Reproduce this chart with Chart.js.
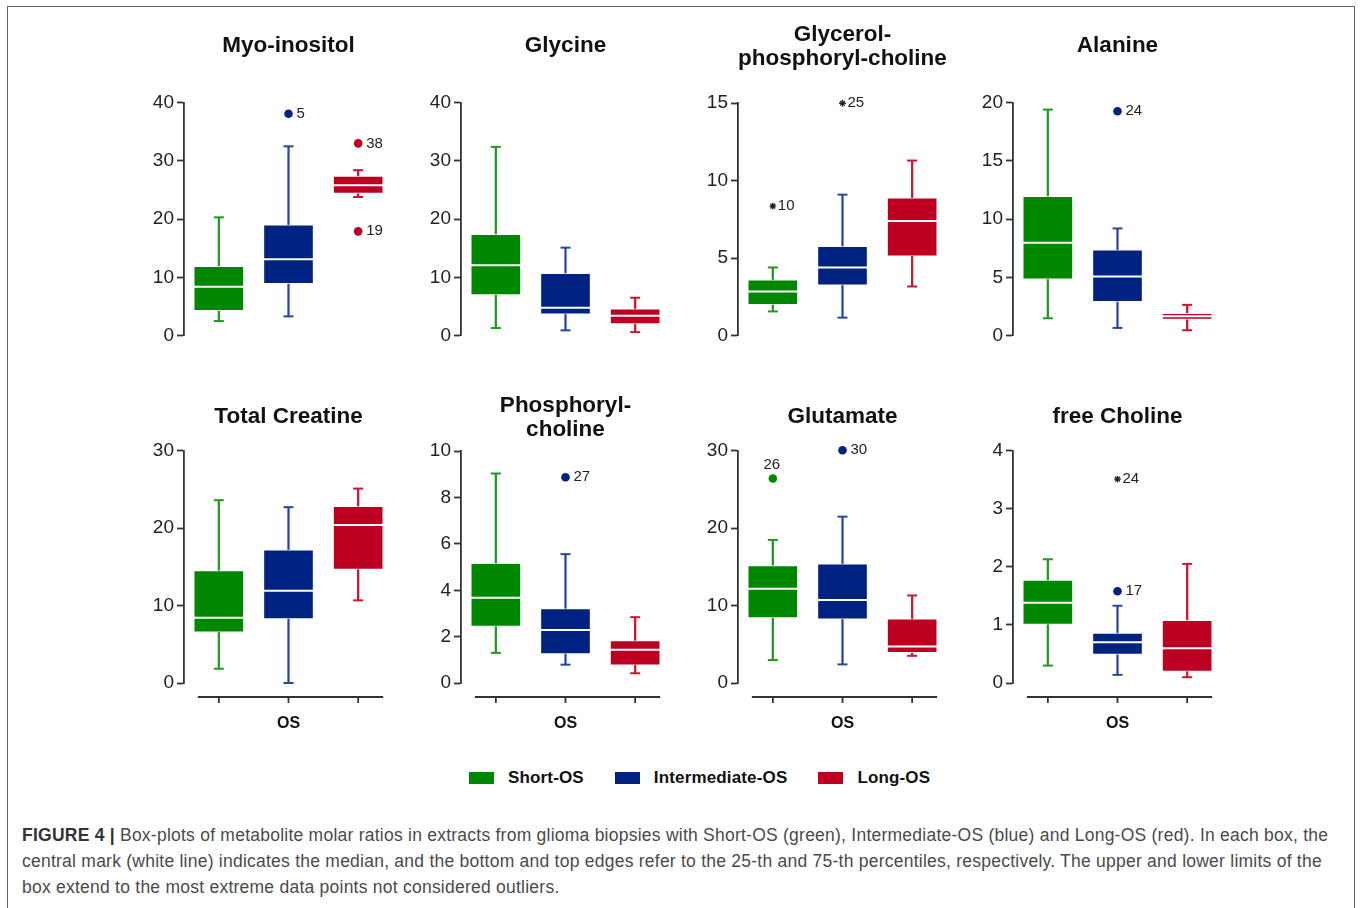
<!DOCTYPE html>
<html>
<head>
<meta charset="utf-8">
<script src="https://cdn.jsdelivr.net/npm/chart.js@4.4.1/dist/chart.umd.min.js"></script>
<style>
html, body { margin: 0; padding: 0; background: #fff; }
body { width: 1360px; height: 908px; position: relative; overflow: hidden; font-family: "Liberation Sans", Arial, sans-serif; }
#frame { position: absolute; left: 7px; top: 6px; width: 1348px; height: 980px; border: 1px solid #666; box-sizing: border-box; }
canvas.panel { position: absolute; }
#legend { position: absolute; left: 469px; top: 767px; height: 22px; display: flex; align-items: center; font-weight: bold; font-size: 17px; letter-spacing: 0.15px; color: #111; white-space: nowrap; }
#legend .sw { display: inline-block; width: 25px; height: 12px; margin-right: 14px; }
#legend .lab { margin-right: 31px; }
#caption { position: absolute; left: 22px; top: 822px; font-size: 17.5px; letter-spacing: 0.24px; line-height: 26px; color: #4a4a4a; white-space: nowrap; }
#caption b { color: #333; }
</style>
</head>
<body>
<div id="frame"></div>
<canvas class="panel" id="p0" width="270" height="340"></canvas>
<canvas class="panel" id="p1" width="270" height="340"></canvas>
<canvas class="panel" id="p2" width="270" height="340"></canvas>
<canvas class="panel" id="p3" width="270" height="340"></canvas>
<canvas class="panel" id="p4" width="270" height="361"></canvas>
<canvas class="panel" id="p5" width="270" height="361"></canvas>
<canvas class="panel" id="p6" width="270" height="361"></canvas>
<canvas class="panel" id="p7" width="270" height="361"></canvas>
<div id="legend"></div>
<div id="caption"><b>FIGURE 4 |</b> Box-plots of metabolite molar ratios in extracts from glioma biopsies with Short-OS (green), Intermediate-OS (blue) and Long-OS (red). In each box, the<br>central mark (white line) indicates the median, and the bottom and top edges refer to the 25-th and 75-th percentiles, respectively. The upper and lower limits of the<br>box extend to the most extreme data points not considered outliers.</div>
<script>
// ---------------- DATA ----------------
const groups = ['Short-OS', 'Intermediate-OS', 'Long-OS'];
const xAxisTitle = 'OS';
const panelTitles = ['Myo-inositol', 'Glycine', ['Glycerol-', 'phosphoryl-choline'], 'Alanine',
                     'Total Creatine', ['Phosphoryl-', 'choline'], 'Glutamate', 'free Choline'];
const yMax  = [40, 40, 15, 20, 30, 10, 30, 4];
const yStep = [10, 10, 5, 5, 10, 2, 10, 1];

const whiskerLow = [
  [2.5, 3.3, 23.8],
  [1.3, 0.9, 0.6],
  [1.56, 1.16, 3.17],
  [1.49, 0.66, 0.46],
  [1.84, 0.0, 10.67],
  [1.30, 0.79, 0.42],
  [2.96, 2.40, 3.51],
  [0.30, 0.14, 0.10]
];
const q1 = [
  [4.3, 8.9, 24.4],
  [7.0, 3.7, 2.0],
  [2.0, 3.26, 5.12],
  [4.84, 2.92, 1.38],
  [6.56, 8.27, 14.66],
  [2.44, 1.26, 0.77],
  [8.4, 8.23, 3.9],
  [1.01, 0.49, 0.20]
];
const median = [
  [8.4, 13.1, 25.8],
  [12.1, 4.8, 3.4],
  [2.85, 4.4, 7.4],
  [7.97, 5.07, 1.66],
  [8.44, 11.9, 20.4],
  [3.68, 2.29, 1.43],
  [12.17, 10.7, 4.71],
  [1.38, 0.70, 0.60]
];
const q3 = [
  [11.9, 19.0, 27.4],
  [17.4, 10.7, 4.6],
  [3.6, 5.76, 8.9],
  [11.95, 7.36, 1.92],
  [14.5, 17.2, 22.8],
  [5.16, 3.21, 1.83],
  [15.17, 15.39, 8.27],
  [1.77, 0.86, 1.08]
];
const whiskerHigh = [
  [20.3, 32.5, 28.4],
  [32.4, 15.1, 6.5],
  [4.4, 9.1, 11.3],
  [19.4, 9.2, 2.64],
  [23.6, 22.7, 25.1],
  [9.04, 5.56, 2.84],
  [18.47, 21.47, 11.3],
  [2.13, 1.33, 2.05]
];
// outliers: group index, value, case number, extreme (star) flag
const outlierGroup   = [[1, 2, 2], [], [0, 1], [1], [], [1], [0, 1], [1, 1]];
const outlierValue   = [[38.1, 33.0, 17.9], [], [8.36, 15.0], [19.26], [], [8.88], [26.4, 30.05], [3.51, 1.58]];
const outlierCase    = [['5', '38', '19'], [], ['10', '25'], ['24'], [], ['27'], ['26', '30'], ['24', '17']];
const outlierExtreme = [[false, false, false], [], [true, true], [false], [], [false], [false, false], [true, false]];

// ---------------- STYLE / LAYOUT ----------------
const boxColors = ['#008700', '#002381', '#bd0022'];
const whiskerColors = ['#1f9a1f', '#2a47a0', '#d0142f'];
const axisX = [184, 461, 738, 1013];
const rowTop = [10, 380];
const FONT = '"Liberation Sans", Arial, sans-serif';
Chart.defaults.font.family = FONT;
Chart.defaults.color = '#222';

const boxExtras = {
  id: 'boxExtras',
  afterDatasetsDraw(chart, args, opts) {
    const p = opts.panel;
    const { ctx } = chart;
    const x = chart.scales.x, y = chart.scales.y;
    const boxMeta = chart.getDatasetMeta(2);
    ctx.save();
    groups.forEach((g, i) => {
      const cx = x.getPixelForValue(i);
      ctx.strokeStyle = whiskerColors[i];
      ctx.lineWidth = 2;
      [whiskerLow[p][i], whiskerHigh[p][i]].forEach(v => {
        const yy = y.getPixelForValue(v);
        ctx.beginPath(); ctx.moveTo(cx - 5, yy); ctx.lineTo(cx + 5, yy); ctx.stroke();
      });
      const el = boxMeta.data[i];
      const my = y.getPixelForValue(median[p][i]);
      ctx.strokeStyle = '#ffffff';
      ctx.lineWidth = 2;
      ctx.beginPath(); ctx.moveTo(el.x - el.width / 2, my); ctx.lineTo(el.x + el.width / 2, my); ctx.stroke();
    });
    // outlier case labels
    const dotMeta = chart.getDatasetMeta(3);
    const starMeta = chart.getDatasetMeta(4);
    ctx.fillStyle = '#222';
    ctx.font = '15px ' + FONT;
    ctx.textBaseline = 'middle';
    let di = 0, si = 0;
    outlierCase[p].forEach((lab, k) => {
      if (outlierExtreme[p][k]) {
        const el = starMeta.data[si++];
        ctx.textAlign = 'left';
        ctx.fillText(lab, el.x + 5, el.y);
      } else {
        const el = dotMeta.data[di++];
        if (p === 6 && k === 0) {
          ctx.textAlign = 'center';
          ctx.fillText(lab, el.x - 1, el.y - 14);
        } else {
          ctx.textAlign = 'left';
          ctx.fillText(lab, el.x + 8, el.y);
        }
      }
    });
    ctx.restore();
  },
  afterDraw(chart, args, opts) {
    if (!opts.xAxis) return;
    const { ctx, chartArea } = chart;
    const x = chart.scales.x;
    const yy = chartArea.bottom + 14;
    ctx.save();
    ctx.strokeStyle = '#333';
    ctx.lineWidth = 1.8;
    ctx.beginPath();
    ctx.moveTo(x.getPixelForValue(0) - 21, yy);
    ctx.lineTo(x.getPixelForValue(groups.length - 1) + 25, yy);
    ctx.stroke();
    groups.forEach((g, i) => {
      const cx = x.getPixelForValue(i);
      ctx.beginPath(); ctx.moveTo(cx, yy); ctx.lineTo(cx, yy + 6); ctx.stroke();
    });
    ctx.restore();
  }
};

function makePanel(p) {
  const row = p < 4 ? 0 : 1;
  const col = p % 4;
  const canvas = document.getElementById('p' + p);
  canvas.style.left = (axisX[col] - 45) + 'px';
  canvas.style.top = rowTop[row] + 'px';
  const twoLine = Array.isArray(panelTitles[p]);
  const titlePad = row === 0
    ? (twoLine ? { top: 13, bottom: 33 } : { top: 24, bottom: 45 })
    : (twoLine ? { top: 14, bottom: 10 } : { top: 25, bottom: 22 });

  const dotIdx = outlierGroup[p].map((g, k) => k).filter(k => !outlierExtreme[p][k]);
  const starIdx = outlierGroup[p].map((g, k) => k).filter(k => outlierExtreme[p][k]);

  new Chart(canvas, {
    type: 'bar',
    data: {
      labels: groups,
      datasets: [
        { label: 'lower whisker', data: groups.map((g, i) => [whiskerLow[p][i], q1[p][i]]),
          backgroundColor: whiskerColors, barThickness: 1.6, grouped: false, order: 3, borderWidth: 0 },
        { label: 'upper whisker', data: groups.map((g, i) => [q3[p][i], whiskerHigh[p][i]]),
          backgroundColor: whiskerColors, barThickness: 1.6, grouped: false, order: 3, borderWidth: 0 },
        { label: 'box', data: groups.map((g, i) => [q1[p][i], q3[p][i]]),
          backgroundColor: boxColors, borderColor: 'rgba(255,255,255,0.55)', borderWidth: 1,
          borderSkipped: false, barThickness: 50, grouped: false, order: 2 },
        { type: 'scatter', label: 'outliers',
          data: dotIdx.map(k => ({ x: groups[outlierGroup[p][k]], y: outlierValue[p][k] })),
          pointBackgroundColor: dotIdx.map(k => boxColors[outlierGroup[p][k]]),
          pointBorderWidth: 0, pointRadius: 4.3, clip: false, order: 1 },
        { type: 'scatter', label: 'extremes',
          data: starIdx.map(k => ({ x: groups[outlierGroup[p][k]], y: outlierValue[p][k] })),
          pointStyle: 'star', pointRadius: 3.4, pointBorderColor: '#222', pointBorderWidth: 1.3,
          pointBackgroundColor: '#222', clip: false, order: 1 }
      ]
    },
    options: {
      responsive: false,
      animation: false,
      events: [],
      layout: { padding: { left: 0, right: 16, top: 0, bottom: row === 0 ? 14 : 4 } },
      plugins: {
        legend: { display: false },
        tooltip: { enabled: false },
        title: {
          display: true, text: panelTitles[p], fullSize: false, color: '#111',
          font: { size: 22.5, weight: 'bold', lineHeight: 1.05 }, padding: titlePad
        },
        boxExtras: { panel: p, xAxis: row === 1 }
      },
      scales: {
        x: {
          type: 'category',
          display: row === 1,
          offset: true,
          grid: { display: false },
          border: { display: false },
          ticks: { display: false },
          title: { display: true, text: xAxisTitle, color: '#111', font: { size: 16, weight: 'bold', lineHeight: 1.2 }, padding: { top: 0, bottom: 4 } },
          afterFit: s => { s.height = row === 1 ? 54 : 0; }
        },
        y: {
          min: 0, max: yMax[p],
          ticks: { stepSize: yStep[p], color: '#222', font: { size: 19 }, padding: 3 },
          grid: { drawOnChartArea: false, drawTicks: true, tickLength: 7, tickWidth: 1.8, tickColor: '#333', color: '#333' },
          border: { display: true, color: '#333', width: 1.8 },
          afterFit: s => { s.width = 45; }
        }
      }
    },
    plugins: [boxExtras]
  });
}

for (let p = 0; p < 8; p++) makePanel(p);

// legend
const legend = document.getElementById('legend');
groups.forEach((g, i) => {
  const sw = document.createElement('span');
  sw.className = 'sw';
  sw.style.background = boxColors[i];
  const lab = document.createElement('span');
  lab.className = 'lab';
  lab.textContent = g;
  legend.appendChild(sw);
  legend.appendChild(lab);
});
</script>
</body>
</html>
